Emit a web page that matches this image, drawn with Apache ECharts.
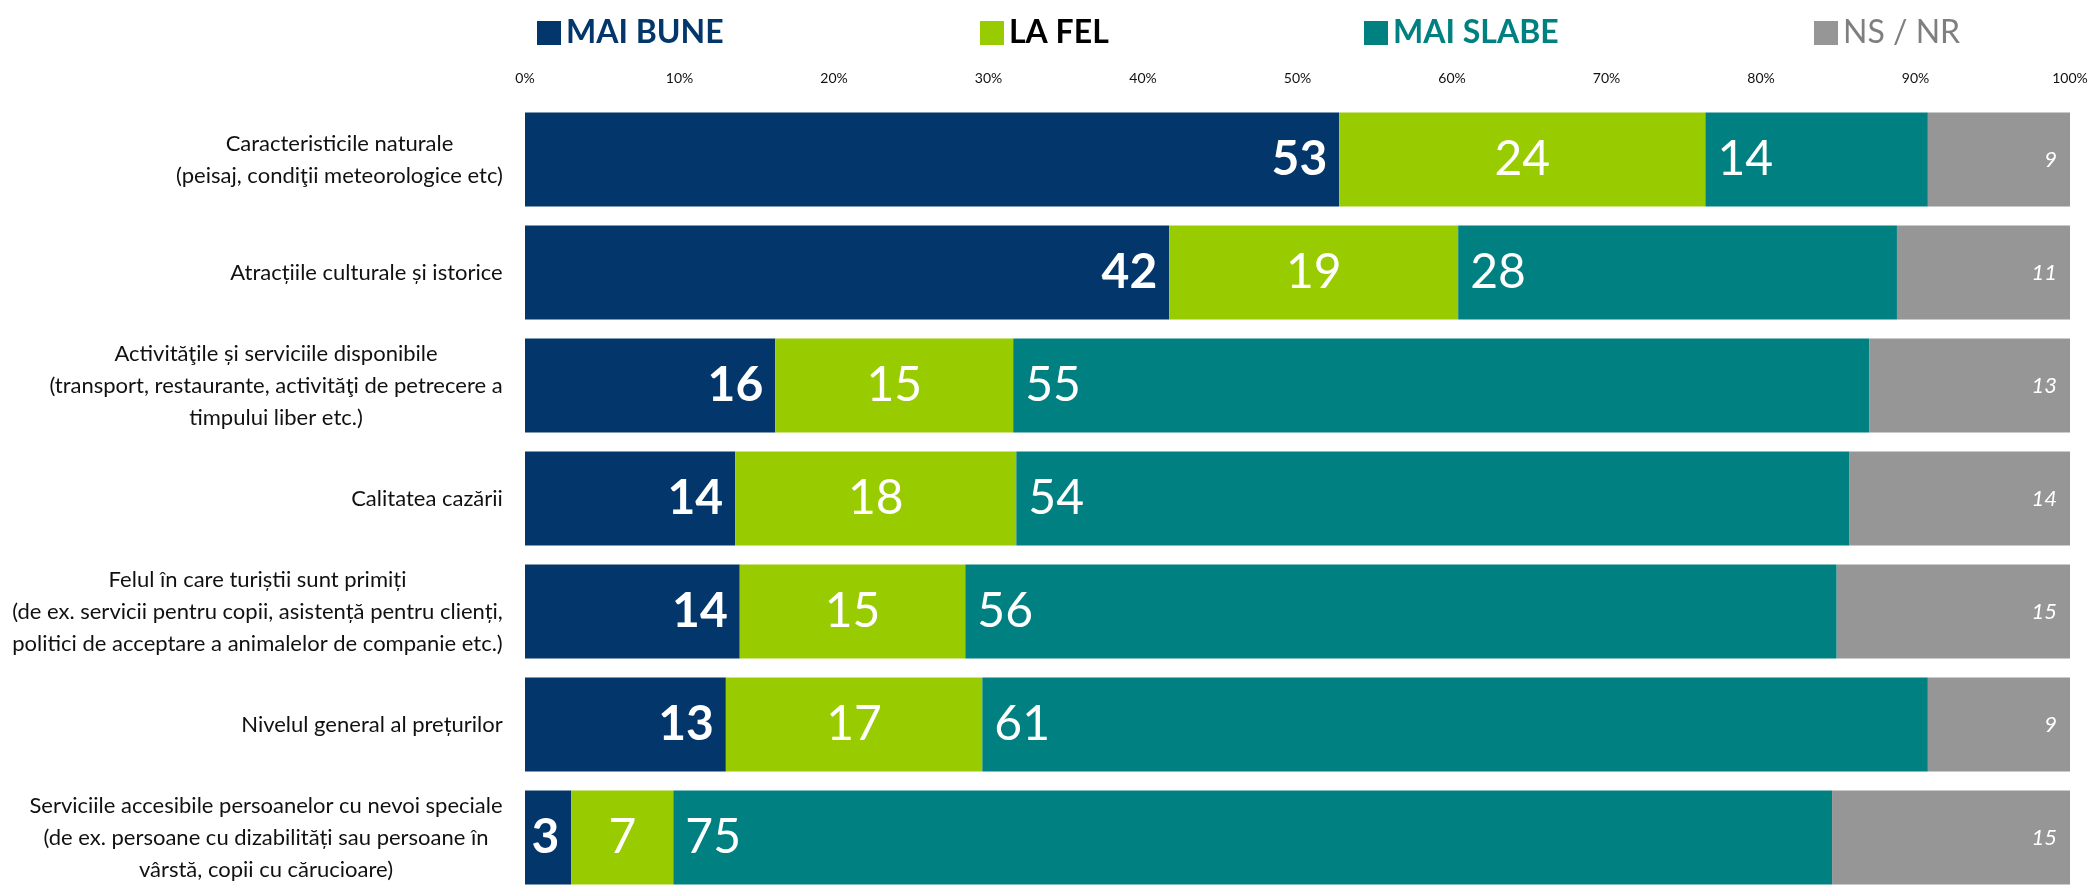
<!DOCTYPE html>
<html>
<head>
<meta charset="utf-8">
<script src="https://cdn.jsdelivr.net/npm/echarts@6/dist/echarts.min.js"></script>
<style>
  html, body { margin: 0; padding: 0; background: #fff; }
  #chart { width: 2091px; height: 894px; }
</style>
</head>
<body>
<div id="chart"></div>
<script>
// categorii (de sus in jos)
const categories = [
  'Caracteristicile naturale\n(peisaj, condiţii meteorologice etc)',
  'Atracțiile culturale și istorice',
  'Activităţile și serviciile disponibile\n(transport, restaurante, activităţi de petrecere a\ntimpului liber etc.)',
  'Calitatea cazării',
  'Felul în care turiștii sunt primiți\n(de ex. servicii pentru copii, asistență pentru clienți,\npolitici de acceptare a animalelor de companie etc.)',
  'Nivelul general al prețurilor',
  'Serviciile accesibile persoanelor cu nevoi speciale\n(de ex. persoane cu dizabilități sau persoane în\nvârstă, copii cu cărucioare)'
]
const seriesNames = ['MAI BUNE', 'LA FEL', 'MAI SLABE', 'NS / NR']
// procente
const maiBune = [52.7, 41.7, 16.2, 13.6, 13.9, 13.0, 3.0]
const laFel = [23.7, 18.7, 15.4, 18.2, 14.6, 16.6, 6.6]
const maiSlabe = [14.4, 28.4, 55.4, 53.9, 56.4, 61.2, 75.0]
const nsNr = [9.2, 11.2, 13.0, 14.3, 15.1, 9.2, 15.4]
const tickValues = [0, 10, 20, 30, 40, 50, 60, 70, 80, 90, 100]

const colors = ['#03366A', '#99CC00', '#008080', '#969696']
const legendText = ['#03366A', '#000000', '#008080', '#7F7F7F']
const legendLeft = [537, 980, 1364, 1814]

const FONT = 'Lato'
const catFontSize = 22

// latimea maxima a fiecarei etichete, ca liniile sa fie centrate intre ele
const ctx = document.createElement('canvas').getContext('2d')
ctx.font = catFontSize + 'px ' + FONT
const rich = {}
categories.forEach((c, i) => {
  const w = Math.max(...c.split('\n').map(l => ctx.measureText(l).width))
  rich['c' + i] = {
    width: Math.ceil(w) + 2,
    align: 'center',
    fontFamily: FONT,
    fontSize: catFontSize,
    lineHeight: 32,
    color: '#111'
  }
})

const chart = echarts.init(document.getElementById('chart'))

const labelBase = {
  show: true,
  color: '#fff',
  fontFamily: FONT,
  formatter: p => Math.round(p.value)
}

const option = {
  animation: false,
  color: colors,
  legend: seriesNames.map((n, i) => ({
    left: legendLeft[i],
    top: 17,
    padding: 0,
    icon: 'rect',
    itemWidth: 24,
    itemHeight: 24,
    itemGap: 11,
    selectedMode: false,
    data: [{
      name: n,
      textStyle: {
        color: legendText[i],
        fontWeight: i === 3 ? 'normal' : 'bold',
        fontSize: 32,
        fontFamily: FONT
      }
    }]
  })),
  grid: {
    left: 525,
    right: 21,
    top: 103,
    height: 803,
    containLabel: false
  },
  xAxis: {
    type: 'value',
    position: 'top',
    min: 0,
    max: 100,
    interval: 10,
    axisLine: { show: false },
    axisTick: { show: false },
    splitLine: { show: false },
    axisLabel: {
      margin: 18,
      fontFamily: FONT,
      fontSize: 14,
      color: '#111',
      formatter: v => tickValues.includes(v) ? v + '%' : ''
    }
  },
  yAxis: {
    type: 'category',
    inverse: true,
    data: categories,
    axisLine: { show: false },
    axisTick: { show: false },
    axisLabel: {
      margin: 21,
      align: 'right',
      formatter: (value, idx) => value.split('\n').map(l => '{c' + idx + '|' + l + '}').join('\n'),
      rich: rich
    }
  },
  series: [
    {
      name: seriesNames[0],
      type: 'bar',
      stack: 'total',
      barCategoryGap: '17%',
      data: maiBune,
      label: Object.assign({}, labelBase, {
        position: 'insideRight',
        distance: 12,
        fontSize: 48,
        fontWeight: 'bold'
      })
    },
    {
      name: seriesNames[1],
      type: 'bar',
      stack: 'total',
      barCategoryGap: '17%',
      data: laFel,
      label: Object.assign({}, labelBase, {
        position: 'inside',
        fontSize: 48
      })
    },
    {
      name: seriesNames[2],
      type: 'bar',
      stack: 'total',
      barCategoryGap: '17%',
      data: maiSlabe,
      label: Object.assign({}, labelBase, {
        position: 'insideLeft',
        distance: 12,
        fontSize: 48
      })
    },
    {
      name: seriesNames[3],
      type: 'bar',
      stack: 'total',
      barCategoryGap: '17%',
      data: nsNr,
      label: Object.assign({}, labelBase, {
        position: 'insideRight',
        distance: 13,
        fontSize: 22,
        fontStyle: 'italic'
      })
    }
  ]
}

chart.setOption(option)
</script>
</body>
</html>
